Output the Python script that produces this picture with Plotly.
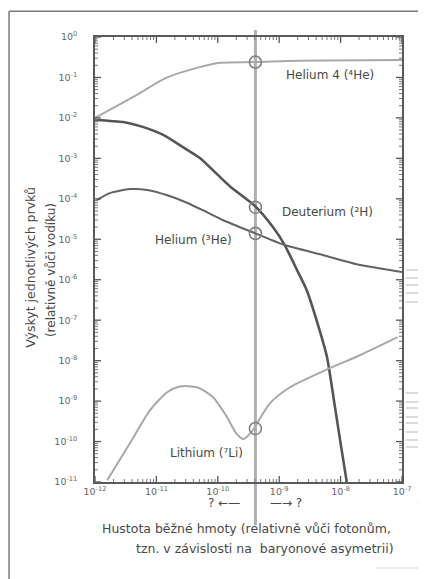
import plotly.graph_objects as go

# ---- data ----
he4_x = [1e-12, 4.2e-12, 1.5e-11, 5.1e-11, 1.1e-10, 4.1e-10, 2.2e-9, 1e-7]
he4_y = [1.0e-2, 3.3e-2, 0.10, 0.18, 0.23, 0.24, 0.26, 0.27]

d_x = [1e-12, 2.9e-12, 6.0e-12, 1.29e-11, 2.7e-11, 5.1e-11, 1.0e-10, 1.6e-10, 4.1e-10, 7.9e-10,
       1.23e-9, 1.95e-9, 2.8e-9, 4.2e-9, 6.0e-9, 8.1e-9, 9.8e-9, 1.26e-8]
d_y = [8.9e-3, 7.9e-3, 6.0e-3, 3.8e-3, 1.9e-3, 1.02e-3, 3.9e-4, 2.0e-4, 6.5e-5, 2.0e-5,
       7.2e-6, 1.74e-6, 5.6e-7, 8.5e-8, 1.23e-8, 7.1e-10, 1.1e-10, 1e-11]

he3_x = [1.07e-12, 1.74e-12, 3.7e-12, 7.1e-12, 1.5e-11, 3.2e-11, 6.6e-11, 1.2e-10,
         4.1e-10, 1.23e-9, 5.1e-9, 2.1e-8, 1e-7]
he3_y = [9.3e-5, 1.38e-4, 1.74e-4, 1.66e-4, 1.23e-4, 7.9e-5, 4.7e-5, 3.0e-5,
         1.4e-5, 7.2e-6, 4.1e-6, 2.3e-6, 1.55e-6]

li_x = [1.58e-12, 3.7e-12, 7.9e-12, 1.5e-11, 2.4e-11, 4.6e-11, 8.3e-11, 1.4e-10,
        2.0e-10, 2.6e-10, 3.7e-10, 4.4e-10, 7.1e-10, 1.5e-9, 6.8e-9, 2.1e-8, 8.5e-8]
li_y = [1.1e-11, 9.1e-11, 6.0e-10, 1.66e-9, 2.3e-9, 2.2e-9, 1.26e-9, 4.1e-10,
        1.6e-10, 1.15e-10, 1.9e-10, 2.9e-10, 8.9e-10, 2.2e-9, 6.6e-9, 1.38e-8, 3.8e-8]

eta_obs = 4.1e-10
circle_y = [0.24, 6.2e-5, 1.4e-5, 2.1e-10]

x_tickvals = [1e-12, 1e-11, 1e-10, 1e-9, 1e-8, 1e-7]
x_ticktext = ["10<sup>-12</sup>", "10<sup>-11</sup>", "10<sup>-10</sup>",
              "10<sup>-9</sup>", "10<sup>-8</sup>", "10<sup>-7</sup>"]
y_tickvals = [10.0 ** (-k) for k in range(0, 12)]
y_ticktext = ["10<sup>0</sup>"] + ["10<sup>-%d</sup>" % k for k in range(1, 12)]

labels = ["Helium 4 (⁴He)", "Deuterium (²H)", "Helium (³He)", "Lithium (⁷Li)"]

x_minor = [m * 10.0 ** e for e in range(-12, -7) for m in range(2, 10)]
y_minor = [m * 10.0 ** e for e in range(-11, 0) for m in range(2, 10)]

FONT = "DejaVu Sans"
LIGHT = "#a8a8a8"
DARK = "#555555"
TXT = "#484848"

fig = go.Figure()
fig.add_trace(go.Scatter(x=he4_x, y=he4_y, mode="lines",
                         line=dict(color=LIGHT, width=2, shape="spline", smoothing=0.8)))
fig.add_trace(go.Scatter(x=d_x, y=d_y, mode="lines",
                         line=dict(color=DARK, width=2.6, shape="spline", smoothing=0.6)))
fig.add_trace(go.Scatter(x=he3_x, y=he3_y, mode="lines",
                         line=dict(color="#636363", width=2, shape="spline", smoothing=0.6)))
fig.add_trace(go.Scatter(x=li_x, y=li_y, mode="lines",
                         line=dict(color=LIGHT, width=2, shape="spline", smoothing=0.7)))
fig.add_trace(go.Scatter(x=[eta_obs] * len(circle_y), y=circle_y, mode="markers",
                         marker=dict(symbol="circle-open", size=12, color="#808080", line=dict(width=1.6))))

# vertical line at observed density
fig.add_shape(type="line", xref="x", yref="paper", x0=eta_obs, x1=eta_obs, y0=-0.097, y1=1.016,
              line=dict(color="#b0b0b0", width=3), layer="below")

# inward tick marks on all four sides (drawn from the tick value lists)
PLOT_W, PLOT_H = 307.0, 445.0
for vals, length, width, col in [(x_tickvals, 6, 1.3, "#555555"), (x_minor, 3, 1, "#777777")]:
    h = length / PLOT_H
    for v in vals:
        fig.add_shape(type="line", xref="x", yref="paper", x0=v, x1=v, y0=0, y1=h,
                      line=dict(color=col, width=width))
        fig.add_shape(type="line", xref="x", yref="paper", x0=v, x1=v, y0=1, y1=1 - h,
                      line=dict(color=col, width=width))
for vals, length, width, col in [(y_tickvals, 6, 1.3, "#555555"), (y_minor, 3, 1, "#777777")]:
    w = length / PLOT_W
    for v in vals:
        fig.add_shape(type="line", xref="paper", yref="y", x0=0, x1=w, y0=v, y1=v,
                      line=dict(color=col, width=width))
        fig.add_shape(type="line", xref="paper", yref="y", x0=1, x1=1 - w, y0=v, y1=v,
                      line=dict(color=col, width=width))

# outer frame (left and top)
fig.add_shape(type="line", xref="paper", yref="paper", x0=-0.280, x1=1.1, y0=1.058, y1=1.058,
              line=dict(color="#7a7a7a", width=1.5))
fig.add_shape(type="line", xref="paper", yref="paper", x0=-0.280, x1=-0.280, y0=1.058, y1=-0.3,
              line=dict(color="#7a7a7a", width=1.5))

# faint scan marks at the right edge of the page
for py in [270, 278, 285, 293, 302, 393, 402, 408, 417, 423, 432, 440, 447]:
    yy = (482 - py) / 445
    fig.add_shape(type="line", xref="paper", yref="paper", x0=1.012, x1=1.08, y0=yy, y1=yy,
                  line=dict(color="#c4c4c4", width=1.2))
fig.add_shape(type="line", xref="paper", yref="paper", x0=1.05, x1=1.08,
              y0=(482 - 502) / 445, y1=(482 - 502) / 445, line=dict(color="#b0b0b0", width=1))
fig.add_shape(type="line", xref="paper", yref="paper", x0=0.915, x1=1.08,
              y0=(482 - 568) / 445, y1=(482 - 568) / 445, line=dict(color="#d8d8d8", width=1))

label_pos = [(-8.17, -0.94), (-8.22, -4.33), (-10.40, -5.02), (-10.18, -10.28)]
for (lx, ly), t in zip(label_pos, labels):
    fig.add_annotation(x=lx, y=ly, xref="x", yref="y", text=t, showarrow=False,
                       font=dict(family=FONT, size=12, color=TXT))

fig.add_annotation(x=(224 - 95) / 307, y=-0.0674, xref="paper", yref="paper", text="? ←—",
                   showarrow=False, font=dict(family=FONT, size=12, color=TXT))
fig.add_annotation(x=(286 - 95) / 307, y=-0.0674, xref="paper", yref="paper", text="—→ ?",
                   showarrow=False, font=dict(family=FONT, size=12, color=TXT))

fig.add_annotation(x=0.495, y=-0.126, xref="paper", yref="paper",
                   text="Hustota běžné hmoty (relativně vůči fotonům,",
                   showarrow=False, font=dict(family=FONT, size=12.5, color=TXT))
fig.add_annotation(x=0.554, y=-0.171, xref="paper", yref="paper",
                   text="tzn. v závislosti na  baryonové asymetrii)",
                   showarrow=False, font=dict(family=FONT, size=12.5, color=TXT))
fig.add_annotation(x=-0.244, y=0.483, xref="paper", yref="paper", text="Výskyt jednotlivých prvků",
                   textangle=-90, showarrow=False, font=dict(family=FONT, size=12.5, color=TXT))
fig.add_annotation(x=-0.173, y=0.476, xref="paper", yref="paper", text="(relativně vůči vodíku)",
                   textangle=-90, showarrow=False, font=dict(family=FONT, size=12, color=TXT))

axis_common = dict(showgrid=False, zeroline=False, showline=True, linecolor="#5a5a5a", linewidth=1.6,
                   mirror=True, ticks="", tickfont=dict(family=FONT, size=9.5, color="#666666"))

fig.update_xaxes(type="log", range=[-12, -7], tickvals=x_tickvals, ticktext=x_ticktext, **axis_common)
fig.update_yaxes(type="log", range=[-11, 0], tickvals=y_tickvals, ticktext=y_ticktext,
                 ticklabelstandoff=14, **axis_common)

# the page body adds an 8px offset, so the figure is 8px smaller and margins shifted
fig.update_layout(width=418, height=571, margin=dict(l=87, r=24, t=29, b=97),
                  paper_bgcolor="white", plot_bgcolor="white", showlegend=False,
                  font=dict(family=FONT))

fig.write_html("out.html")
